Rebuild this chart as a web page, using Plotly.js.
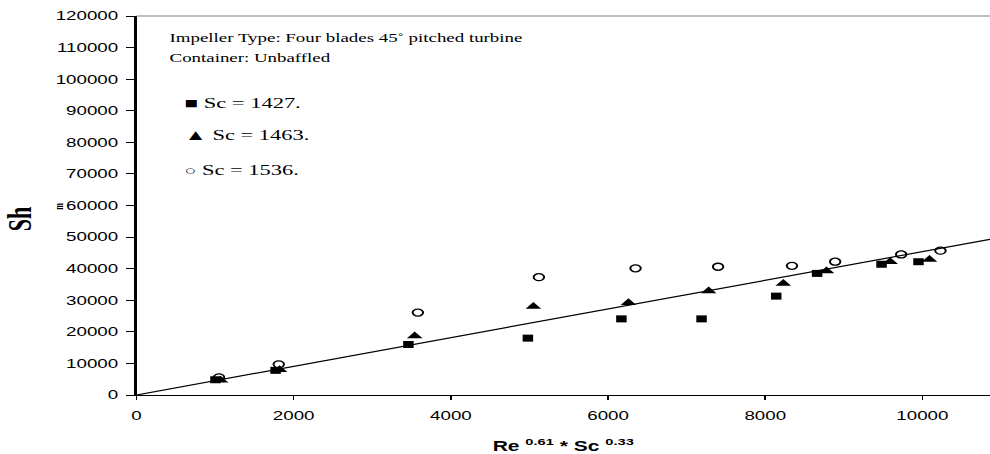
<!DOCTYPE html>
<html>
<head>
<meta charset="utf-8">
<script src="https://cdn.plot.ly/plotly-3.0.1.min.js"></script>
<style>
  html, body { margin: 0; padding: 0; background: #fff; overflow: hidden; }
  /* the figure is laid out narrow and widened 1.5x, as in the printed original */
  #chart { width: 660px; height: 454px; transform: scaleX(1.5); transform-origin: 0 0; }
</style>
</head>
<body>
<div id="chart"></div>
<script>
// Sh against Re^0.61 * Sc^0.33 for three Schmidt numbers
const seriesNames = ['Sc = 1427.', 'Sc = 1463.', 'Sc = 1536.'];

const x1427  = [1005, 1770, 3460, 4980, 6170, 7190, 8140, 8660, 9480, 9950];
const sh1427 = [4800, 7800, 16000, 18000, 24100, 24100, 31300, 38500, 41400, 42200];

const x1463  = [1070, 1820, 3540, 5050, 6260, 7280, 8230, 8780, 9590, 10090];
const sh1463 = [4700, 8000, 18700, 28000, 29200, 32900, 35300, 39300, 42200, 42900];

const x1536  = [1050, 1810, 3580, 5120, 6350, 7400, 8340, 8890, 9730, 10230];
const sh1536 = [5600, 9700, 26100, 37300, 40100, 40600, 40900, 42200, 44500, 45700];

// correlation line through the origin
const fitX  = [0, 10860];
const fitSh = [0, 49300];

const xTickVals = [0, 2000, 4000, 6000, 8000, 10000];
const yTickVals = [0, 10000, 20000, 30000, 40000, 50000, 60000, 70000, 80000, 90000, 100000, 110000, 120000];

const serif = 'Liberation Serif, Times New Roman, serif';
const sans = 'Liberation Sans, Arial, sans-serif';

const traces = [
  { x: fitX, y: fitSh, mode: 'lines', line: { color: '#000', width: 1.2 }, hoverinfo: 'skip' },
  { x: x1427, y: sh1427, name: seriesNames[0], mode: 'markers',
    marker: { symbol: 'square', size: 7, color: '#000' } },
  { x: x1463, y: sh1463, name: seriesNames[1], mode: 'markers',
    marker: { symbol: 'triangle-up', size: 9, color: '#000' } },
  { x: x1536, y: sh1536, name: seriesNames[2], mode: 'markers',
    marker: { symbol: 'circle-open', size: 7, color: '#000', line: { color: '#000', width: 1.3 } } }
];

// key entries: glyph + series name, stacked under the description
const legendGlyphs = ['■', '▲', '○'];
const legendGlyphSize = [15, 15, 13];
const legendY = [0.770, 0.686, 0.594];
const legendNotes = seriesNames.map((n, i) => ({
  xref: 'paper', yref: 'paper', x: 0.052, y: legendY[i],
  xanchor: 'left', yanchor: 'middle', showarrow: false,
  text: '<span style="font-size:' + legendGlyphSize[i] + 'px">' + legendGlyphs[i] + '</span> ' + n,
  font: { family: serif, size: 15, color: '#000' }
}));

const layout = {
  width: 660, height: 454,
  margin: { l: 91, r: 0, t: 16, b: 59 },
  paper_bgcolor: '#fff', plot_bgcolor: '#fff',
  showlegend: false,
  font: { family: sans, size: 12.5, color: '#000' },
  xaxis: {
    range: [0, 10860], tickvals: xTickVals, tickformat: 'd',
    ticks: 'outside', ticklen: 4, tickwidth: 1, tickcolor: '#000',
    showline: true, linecolor: '#000', linewidth: 1,
    showgrid: false, zeroline: false, ticklabelstandoff: 5,
    tickfont: { family: sans, size: 12.5, color: '#000' },
    title: { text: 'Re <sup>0.61</sup> * Sc <sup>0.33</sup>',
             font: { family: sans, size: 14, weight: 'bold', color: '#000' }, standoff: 21 }
  },
  yaxis: {
    range: [0, 120000], tickvals: yTickVals, tickformat: 'd',
    ticks: 'outside', ticklen: 5.3, tickwidth: 1, tickcolor: '#000',
    showline: true, linecolor: '#000', linewidth: 1.4,
    showgrid: false, zeroline: false, ticklabelstandoff: 3,
    tickfont: { family: sans, size: 12.5, color: '#000' }
  },
  shapes: [
    { type: 'line', xref: 'paper', yref: 'paper', x0: 0, x1: 1, y0: 1, y1: 1,
      line: { color: '#808080', width: 1 } }
  ],
  annotations: [
    { xref: 'paper', yref: 'paper', x: 0.036, y: 0.943, xanchor: 'left', yanchor: 'middle',
      showarrow: false, font: { family: serif, size: 12.6, color: '#000' },
      text: 'Impeller Type: Four blades 45˚ pitched turbine' },
    { xref: 'paper', yref: 'paper', x: 0.036, y: 0.8905, xanchor: 'left', yanchor: 'middle',
      showarrow: false, font: { family: serif, size: 12.6, color: '#000' },
      text: 'Container: Unbaffled' },
    { xref: 'paper', yref: 'paper', x: -0.137, y: 0.464, xanchor: 'center', yanchor: 'middle',
      showarrow: false, textangle: -90, font: { family: serif, size: 22, weight: 'bold', color: '#000' },
      text: 'Sh' },
    { xref: 'paper', yref: 'paper', x: -0.09, y: 0.499, xanchor: 'center', yanchor: 'middle',
      showarrow: false, textangle: -90, font: { family: serif, size: 8, weight: 'bold', color: '#000' },
      text: 'm' }
  ].concat(legendNotes)
};

Plotly.newPlot('chart', traces, layout, { staticPlot: true, displayModeBar: false });
</script>
</body>
</html>
